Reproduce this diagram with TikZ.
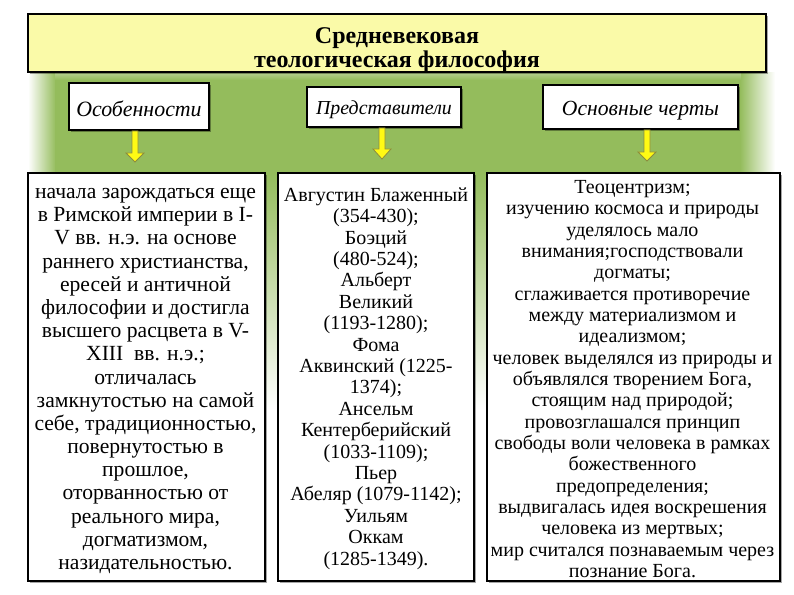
\documentclass[tikz,border=0pt]{standalone}
\usepackage{fontspec}
\setmainfont{Liberation Serif}
\newfontfamily\serfont{Liberation Serif}
\usetikzlibrary{fit,shadows,calc}
\definecolor{grn}{RGB}{148,188,92}
\definecolor{ttl}{RGB}{250,250,168}
\definecolor{arrfill}{RGB}{255,250,20}
\definecolor{arrline}{RGB}{140,140,60}
\begin{document}
\begin{tikzpicture}[x=0.75pt,y=-0.75pt,
  boxbase/.style={draw=black, line width=1.5pt, fill=white, inner sep=0pt,
    general shadow={shadow xshift=1.2pt, shadow yshift=-1.2pt, fill=black, opacity=0.35}},
  titlebox/.style={boxbase, fill=ttl},
  headbox/.style={boxbase},
  colbox/.style={boxbase},
  txt/.style={align=center, inner sep=0pt},
  titletext/.style={txt, font={\serfont\fontsize{18}{18}\selectfont\bfseries}},
  headtext/.style={txt, font={\serfont\fontsize{16.4}{18}\selectfont\itshape}},
  lefttext/.style={txt, font={\serfont\fontsize{16.2}{17.4}\selectfont}},
  midtext/.style={txt, font={\serfont\fontsize{15}{16.05}\selectfont}},
  righttext/.style={txt, font={\serfont\fontsize{15}{16}\selectfont}},
  yarrow/.style={fill=arrfill, draw=arrline, line width=0.6pt, line join=miter}
]
\useasboundingbox (0,0) rectangle (794,595);
\fill[white] (0,0) rectangle (794,595);
% green background
\shade[left color=white, right color=grn] (28,73) rectangle (56,175);
\fill[grn] (55,73) rectangle (741,175);
\shade[left color=grn, right color=white] (740,73) rectangle (775,175);
\shade[top color=grn, bottom color=white] (28,174) rectangle (780,410);
\shade[top color=grn!70!white, bottom color=grn] (55,73) rectangle (741,80);

% title
\coordinate (tnw) at (28,14); \coordinate (tse) at (766,72);
\node[titlebox, fit=(tnw)(tse)] (title) {};
\node[titletext] (titlelbl) at ($(title.center)+(0,7)$) {Средневековая\\теологическая философия};

% header boxes
\coordinate (h1nw) at (69,83);  \coordinate (h1se) at (209,130);
\coordinate (h2nw) at (307,87); \coordinate (h2se) at (461,127);
\coordinate (h3nw) at (543,85); \coordinate (h3se) at (738,129);
\node[headbox, fit=(h1nw)(h1se)] (h1) {};
\node[headbox, fit=(h2nw)(h2se)] (h2) {};
\node[headbox, fit=(h3nw)(h3se)] (h3) {};
\node[headtext] (h1lbl) at ($(h1.center)+(0,2)$) {Особенности};
\node[headtext, font={\serfont\fontsize{14.9}{17}\selectfont\itshape}] (h2lbl) at ($(h2.center)+(0,3)$) {Представители};
\node[headtext, font={\serfont\fontsize{16.2}{18}\selectfont\itshape}] (h3lbl) at ($(h3.center)+(0,3.5)$) {Основные черты};

% arrows
\draw[yarrow] ($(h1.south)+(-4,0)$) ++(-3,0) -- ++(0,22) -- ++(-6,0) -- ++(9,9) -- ++(9,-9) -- ++(-6,0) -- ++(0,-22) -- cycle;
\draw[yarrow] ($(h2.south)+(-2,0)$) ++(-3,0) -- ++(0,21) -- ++(-6,0) -- ++(9,10) -- ++(9,-10) -- ++(-6,0) -- ++(0,-21) -- cycle;
\draw[yarrow] ($(h3.south)+(6.5,0)$) ++(-3,0) -- ++(0,22) -- ++(-6,0) -- ++(9,9) -- ++(9,-9) -- ++(-6,0) -- ++(0,-22) -- cycle;

% columns
\coordinate (c1nw) at (28,173);  \coordinate (c1se) at (265,581);
\coordinate (c2nw) at (278,173); \coordinate (c2se) at (474,581);
\coordinate (c3nw) at (487,173); \coordinate (c3se) at (780,581);
\node[colbox, fit=(c1nw)(c1se)] (c1) {};
\node[colbox, fit=(c2nw)(c2se)] (c2) {};
\node[colbox, fit=(c3nw)(c3se)] (c3) {};
\node[lefttext] (c1lbl) at ($(c1.center)+(-1,4)$) {начала зарождаться еще\\в Римской империи в I-\\V вв. н.э. на основе\\раннего христианства,\\ересей и античной\\философии и достигла\\высшего расцвета в V-\\XIII\ \ вв. н.э.;\\отличалась\\замкнутостью на самой\\себе, традиционностью,\\повернутостью в\\прошлое,\\оторванностью от\\реального мира,\\догматизмом,\\назидательностью.};
\node[midtext] (c2lbl) at ($(c2.center)+(0,1.5)$) {Августин Блаженный\\(354-430);\\Боэций\\(480-524);\\Альберт\\Великий\\(1193-1280);\\Фома\\Аквинский (1225-\\1374);\\Ансельм\\Кентерберийский\\(1033-1109);\\Пьер\\Абеляр (1079-1142);\\Уильям\\Оккам\\(1285-1349).};
\node[righttext] (c3lbl) at ($(c3.center)+(-1,2)$) {Теоцентризм;\\изучению космоса и природы\\уделялось мало\\внимания;господствовали\\догматы;\\сглаживается противоречие\\между материализмом и\\идеализмом;\\человек выделялся из природы и\\объявлялся творением Бога,\\стоящим над природой;\\провозглашался принцип\\свободы воли человека в рамках\\божественного\\предопределения;\\выдвигалась идея воскрешения\\человека из мертвых;\\мир считался познаваемым через\\познание Бога.};
\end{tikzpicture}
\end{document}
